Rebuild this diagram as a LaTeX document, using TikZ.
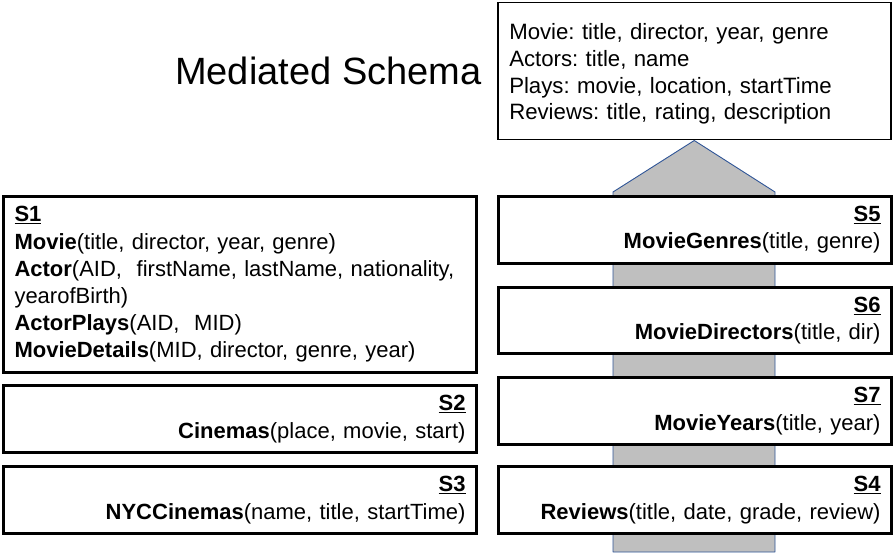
\documentclass[tikz,border=0pt]{standalone}
\usepackage{fontspec}
\setmainfont{Liberation Sans}
\usetikzlibrary{calc}
\definecolor{arrowgray}{HTML}{BFBFBF}
\definecolor{arrowblue}{HTML}{2F5597}
\newcommand{\slabel}[1]{\textbf{\underline{#1}}}
\frenchspacing
\begin{document}
\begin{tikzpicture}[x=1pt,y=-1pt,
  srcbox/.style={draw, line width=3pt, fill=white, inner xsep=11pt, inner ysep=0pt,
    font=\fontsize{22}{27.2}\selectfont},
  medbox/.style={draw, line width=1.5pt, fill=white, inner xsep=11pt, inner ysep=0pt,
    font=\fontsize{22.2}{26.7}\selectfont, align=left},
  blockarrow/.style={draw=arrowblue, line width=0.9pt, fill=arrowgray, line join=round}
]
\useasboundingbox (0,0) rectangle (893,553);

% mediated schema box
\node[medbox, anchor=north west, minimum width=393pt, minimum height=137pt, text width=370pt]
  (med) at (497,2) {\rule{0pt}{22pt}Movie: title, director, year, genre\\
Actors: title, name\\
Plays: movie, location, startTime\\
Reviews: title, rating, description};

\node[anchor=base west, inner sep=0pt, font=\fontsize{38}{40}\selectfont] (title) at (175,85) {Mediated Schema};

% block arrow (drawn behind the source boxes)
\coordinate (tip) at (med.south);
\draw[blockarrow] (613,552) -- (613,192) -- (tip) -- (775,192) -- (775,552) -- cycle;

% left column
\node[srcbox, anchor=north west, minimum width=473pt, minimum height=176pt, text width=451pt, align=left]
  (s1) at (2,195) {\slabel{S1}\\
\textbf{Movie}(title, director, year, genre)\\
\textbf{Actor}(AID, \ firstName, lastName, nationality,\\
yearofBirth)\\
\textbf{ActorPlays}(AID, \ MID)\\
\textbf{MovieDetails}(MID, director, genre, year)};

\node[srcbox, anchor=north west, minimum width=473pt, minimum height=67pt, text width=451pt, align=right]
  (s2) at (2,384) {\slabel{S2}\\
\textbf{Cinemas}(place, movie, start)};

\node[srcbox, anchor=north west, minimum width=473pt, minimum height=67pt, text width=451pt, align=right]
  (s3) at (2,465) {\slabel{S3}\\
\textbf{NYCCinemas}(name, title, startTime)};

% right column
\node[srcbox, anchor=north west, minimum width=393pt, minimum height=67pt, text width=371pt, align=right]
  (s5) at (497,195) {\slabel{S5}\\
\textbf{MovieGenres}(title, genre)};

\node[srcbox, anchor=north west, minimum width=393pt, minimum height=66pt, text width=371pt, align=right]
  (s6) at (497,286) {\slabel{S6}\\
\textbf{MovieDirectors}(title, dir)};

\node[srcbox, anchor=north west, minimum width=393pt, minimum height=67pt, text width=371pt, align=right]
  (s7) at (497,376) {\slabel{S7}\\
\textbf{MovieYears}(title, year)};

\node[srcbox, anchor=north west, minimum width=393pt, minimum height=67pt, text width=371pt, align=right]
  (s4) at (497,465) {\slabel{S4}\\
\textbf{Reviews}(title, date, grade, review)};
\end{tikzpicture}
\end{document}
